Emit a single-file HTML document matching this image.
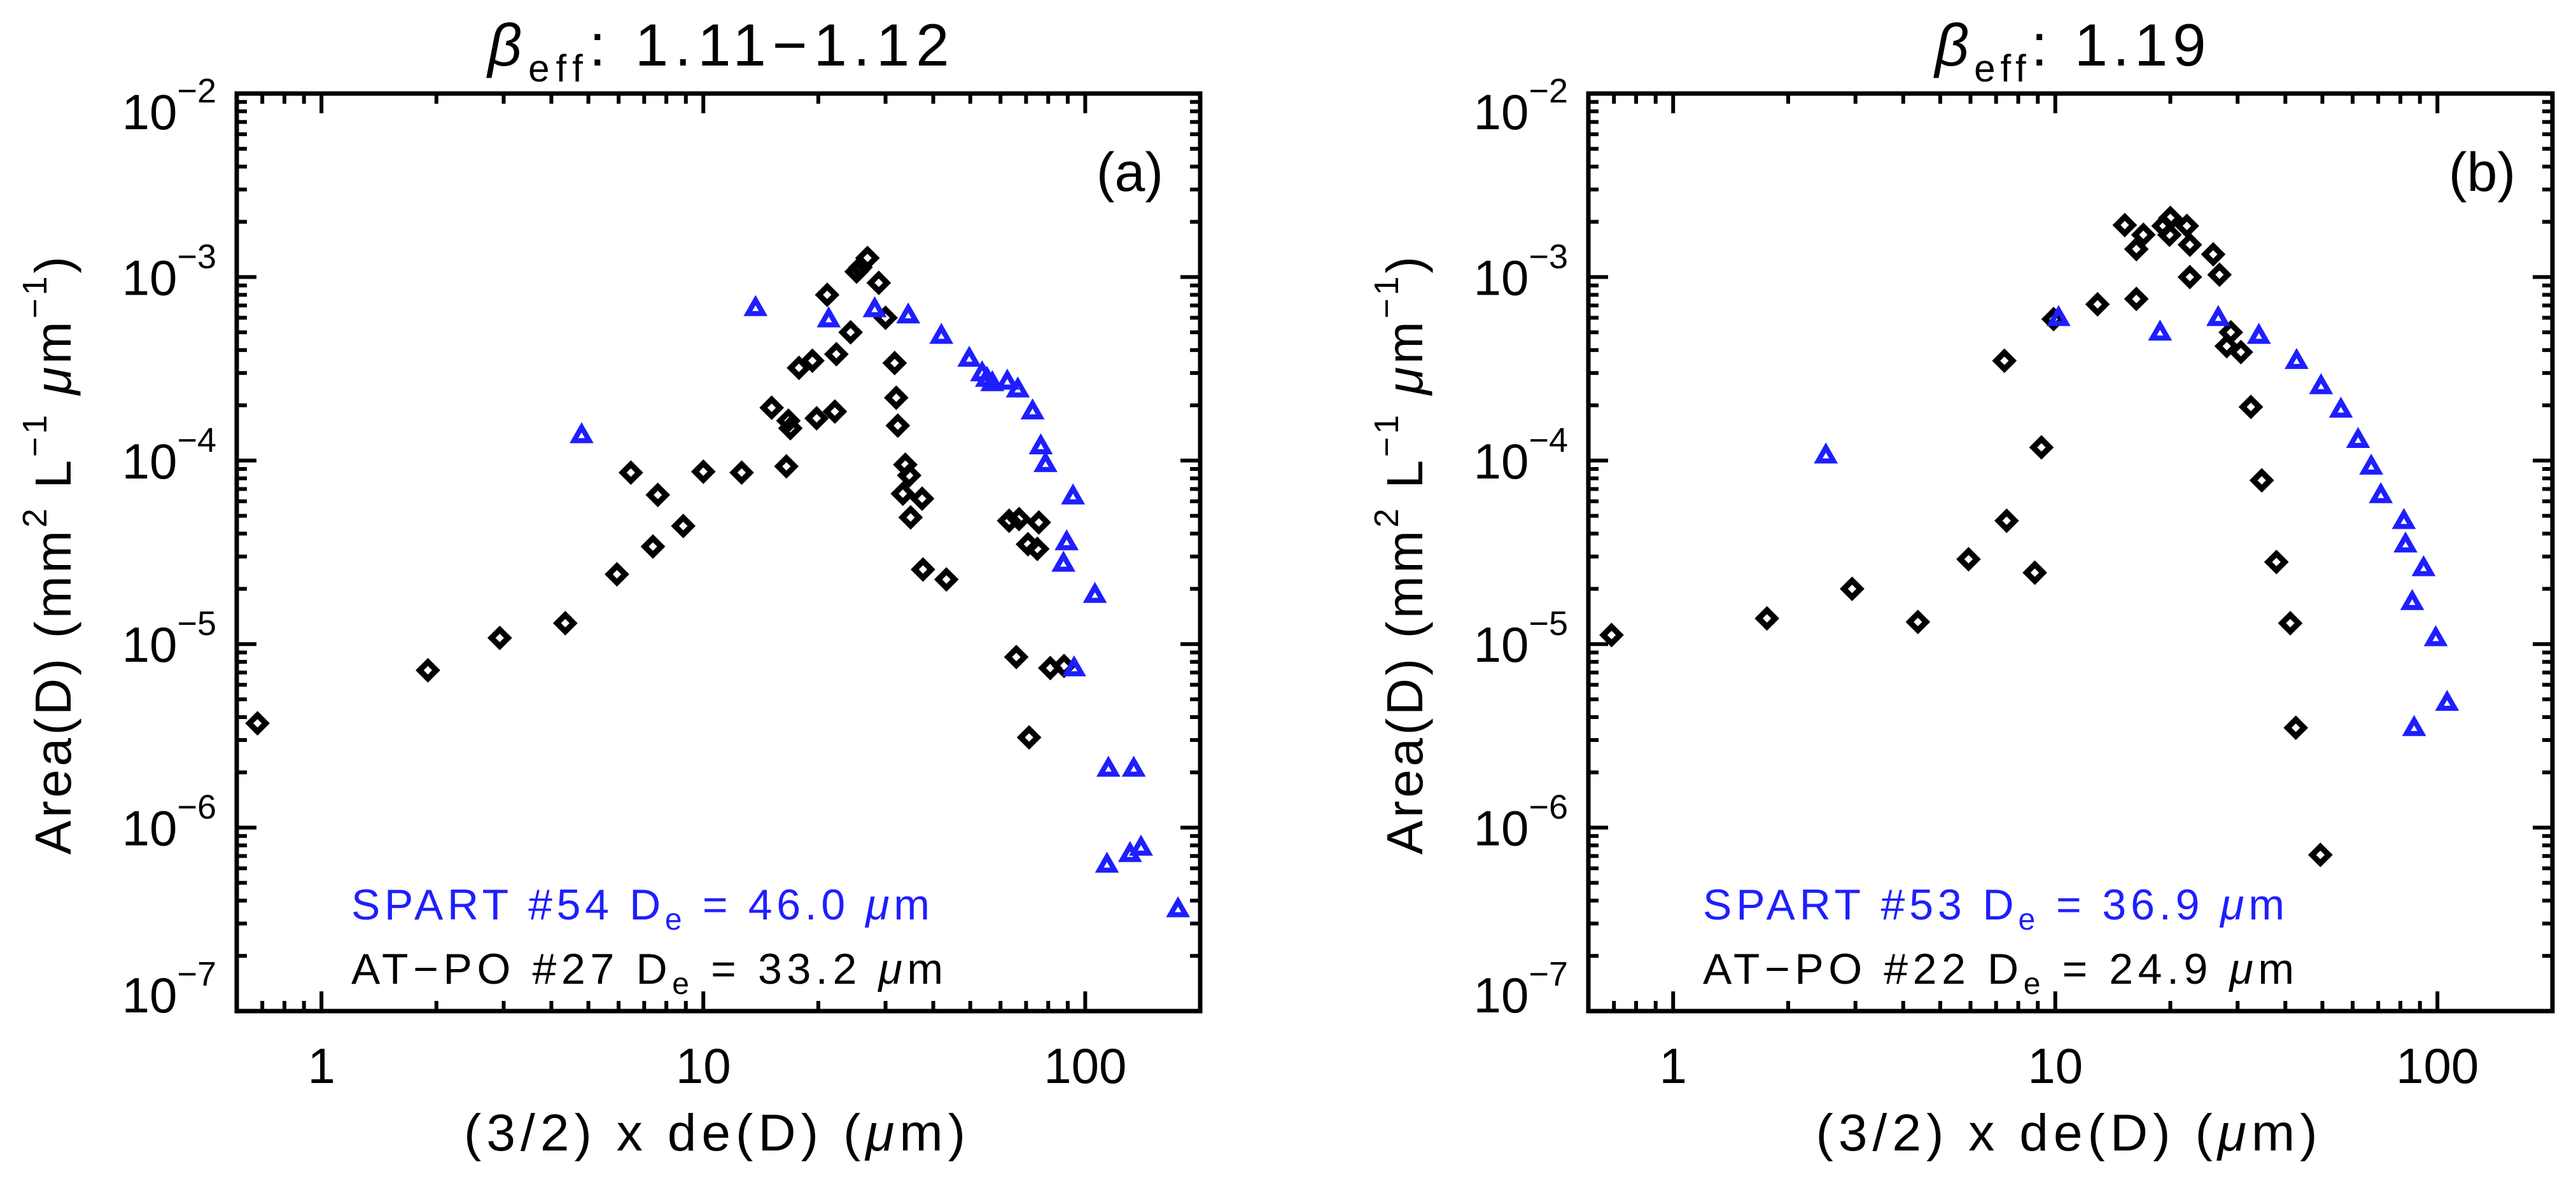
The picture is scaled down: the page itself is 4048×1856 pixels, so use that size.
<!DOCTYPE html>
<html><head><meta charset="utf-8"><style>
html,body{margin:0;padding:0;background:#fff}
svg{display:block}
text{font-family:"Liberation Sans",sans-serif}
</style></head><body>
<svg id="fig" width="4048" height="1856" viewBox="0 0 4048 1856" xmlns="http://www.w3.org/2000/svg">
<g id="panelA"></g>
<g id="panelB"></g>
</svg>
<script>
// Panel (a) data
const aSpartX = [4.8,13.7,21.3,28.1,34.4,42,49.7,53.7,55.3,57.1,62.5,66.6,72.8,76.5,78.7,92.9,89.4,87.7,93.5,106,115,134,114,131,140,175];
const aSpartY = [1.38e-4,6.8e-4,5.9e-4,6.7e-4,6.2e-4,4.8e-4,3.6e-4,3.0e-4,2.8e-4,2.65e-4,2.7e-4,2.45e-4,1.86e-4,1.2e-4,9.6e-5,6.4e-5,3.6e-5,2.75e-5,7.4e-6,1.86e-5,2.1e-6,2.1e-6,6.3e-7,7.2e-7,7.8e-7,3.6e-7];
const aAtpoX = [0.68,1.9,2.93,4.35,5.94,6.46,7.38,7.6,8.86,10,12.6,15.1,16.5,16.7,16.9,17.8,19.3,19.8,21.1,22.1,22.3,24.3,25.2,25.8,26.9,28.8,30.0,31.7,32.0,32.3,33.8,34.6,33.3,34.9,37.4,37.6,43.3,63.2,67.1,70.8,74.9,75.6,66,71.3,81,88];
const aAtpoY = [3.7e-6,7.2e-6,1.08e-5,1.3e-5,2.4e-5,8.6e-5,3.4e-5,6.5e-5,4.4e-5,8.7e-5,8.6e-5,1.94e-4,9.3e-5,1.65e-4,1.5e-4,3.2e-4,3.5e-4,1.7e-4,8.0e-4,1.85e-4,3.8e-4,5.0e-4,1.07e-3,1.13e-3,1.27e-3,9.3e-4,6.0e-4,3.4e-4,2.2e-4,1.55e-4,9.5e-5,8.3e-5,6.6e-5,4.9e-5,6.2e-5,2.55e-5,2.25e-5,4.7e-5,4.8e-5,3.5e-5,3.3e-5,4.6e-5,8.5e-6,3.1e-6,7.4e-6,7.6e-6];
// Panel (b) data
const bSpartX = [2.51,10.2,18.8,26.7,34.1,42.8,49.6,55.9,62,67.1,71.1,81.7,82.5,92,85.9,99,86.9,106];
const bSpartY = [1.07e-4,6.0e-4,5.0e-4,6.0e-4,4.8e-4,3.5e-4,2.55e-4,1.9e-4,1.3e-4,9.3e-5,6.5e-5,4.7e-5,3.5e-5,2.6e-5,1.7e-5,1.08e-5,3.5e-6,4.8e-6];
const bAtpoX = [0.69,1.76,2.94,4.37,5.93,7.36,7.46,8.84,9.2,9.9,12.9,15.2,16.3,16.3,17.0,19.2,20.0,19.9,22.1,22.5,22.5,25.9,26.9,28.8,28.1,30.6,32.5,34.7,37.9,41.2,42.6,49.4];
const bAtpoY = [1.12e-5,1.38e-5,2.0e-5,1.32e-5,2.9e-5,3.5e-4,4.7e-5,2.45e-5,1.18e-4,5.9e-4,7.1e-4,1.92e-3,1.42e-3,7.6e-4,1.7e-3,1.9e-3,2.1e-3,1.7e-3,1.9e-3,1.5e-3,1.0e-3,1.33e-3,1.03e-3,5.0e-4,4.2e-4,3.9e-4,1.96e-4,7.8e-5,2.8e-5,1.3e-5,3.5e-6,7.1e-7];
const xTickValues = [1,10,100];
const xTickLabels = ["1","10","100"];
const yTickExps = [-2,-3,-4,-5,-6,-7];
const titles = ["1.11\u22121.12","1.19"];
const panelLabels = ["(a)","(b)"];
const spartLegend = ["SPART #54 D","SPART #53 D"];
const spartDe = ["46.0","36.9"];
const atpoLegend = ["AT\u2212PO #27 D","AT\u2212PO #22 D"];
const atpoDe = ["33.2","24.9"];

const NS="http://www.w3.org/2000/svg";
const BLUE="#1e1eff";
const Y0=147, Y1=1589, XMIN=0.6, XMAX=200, YMIN=1e-7, YMAX=1e-2;
const TITLE_W=[725,426], BLUE_W=[909,914], BLACK_W=[930,929];
function mk(parent,tag,attrs){const e=document.createElementNS(NS,tag);for(const k in attrs)e.setAttribute(k,attrs[k]);parent.appendChild(e);return e;}
function tspan(parent,txt,attrs){const t=mk(parent,'tspan',attrs||{});t.textContent=txt;return t;}

function drawPanel(g,idx,x0,x1,sx,sy,ax,ay){
  const xs=v=>x0+(Math.log10(v)-Math.log10(XMIN))/(Math.log10(XMAX)-Math.log10(XMIN))*(x1-x0);
  const ys=v=>Y0+(Math.log10(YMAX)-Math.log10(v))/(Math.log10(YMAX)-Math.log10(YMIN))*(Y1-Y0);
  const tk=mk(g,'g',{stroke:'#000','stroke-width':6});
  
  
  for(let d=-1;d<=2;d++){for(let m=1;m<=9;m++){const v=m*Math.pow(10,d);if(v<XMIN-1e-9||v>XMAX+1e-9)continue;const x=xs(v);const L=(m===1)?31:16;
    mk(tk,'line',{x1:x,y1:Y1,x2:x,y2:Y1-L});mk(tk,'line',{x1:x,y1:Y0,x2:x,y2:Y0+L});}}
  for(let d=-7;d<=-2;d++){for(let m=1;m<=9;m++){const v=m*Math.pow(10,d);if(v>YMAX*1.0001)continue;const y=ys(v);const L=(m===1)?31:16;
    mk(tk,'line',{x1:x0,y1:y,x2:x0+L,y2:y});mk(tk,'line',{x1:x1,y1:y,x2:x1-L,y2:y});}}
  const fr=mk(g,'rect',{x:x0,y:Y0,width:x1-x0,height:Y1-Y0,fill:'none',stroke:'#000','stroke-width':7});
  
  
  xTickValues.forEach((v,i)=>{const t=mk(g,'text',{x:xs(v),y:1702,'font-size':78,'text-anchor':'middle'});t.textContent=xTickLabels[i];
    
    });
  yTickExps.forEach(e=>{let yc=ys(Math.pow(10,e));if(e===-2)yc=175;if(e===-7)yc=1563;
    const t=mk(g,'text',{x:x0-32,y:yc+28,'font-size':78,'text-anchor':'end'});
    
    
    tspan(t,'10');tspan(t,'\u2212'+(-e),{'font-size':54,dy:-42});});
  const cx=(x0+x1)/2;
  const ti=mk(g,'text',{x:cx,y:103,'font-size':94,'text-anchor':'middle',textLength:TITLE_W[idx],lengthAdjust:'spacing'});
  
  
  tspan(ti,'\u03b2',{'font-style':'italic'});tspan(ti,'eff',{'font-size':60,dy:25});tspan(ti,': '+titles[idx],{dy:-25});
  const pl=mk(g,'text',{x:x1-58,y:300,'font-size':86,'text-anchor':'end'});pl.textContent=panelLabels[idx];
  
  
  const xl=mk(g,'text',{x:cx-6,y:1808,'font-size':82,'text-anchor':'middle',textLength:788,lengthAdjust:'spacing'});
  
  
  tspan(xl,'(3/2) x de(D) (');tspan(xl,'\u03bc',{'font-style':'italic'});tspan(xl,'m)');
  const yx=x0-261, yc=873;
  const yl=mk(g,'text',{x:yx,y:yc,'font-size':80,'text-anchor':'middle',textLength:940,lengthAdjust:'spacing',transform:`rotate(-90 ${yx} ${yc})`});
  
  
  tspan(yl,'Area(D) (mm');tspan(yl,'2',{'font-size':54,dy:-38});tspan(yl,' L',{dy:38});tspan(yl,'\u22121',{'font-size':54,dy:-38});
  tspan(yl,' ',{dy:38});tspan(yl,'\u03bc',{'font-style':'italic'});tspan(yl,'m');tspan(yl,'\u22121',{'font-size':54,dy:-38});tspan(yl,')',{dy:38});
  const lx=x0+180;
  const l1=mk(g,'text',{x:lx,y:1445,'font-size':68,fill:BLUE,textLength:BLUE_W[idx],lengthAdjust:'spacing'});
  
  
  tspan(l1,spartLegend[idx]);tspan(l1,'e',{'font-size':48,dy:16});tspan(l1,' = '+spartDe[idx]+' ',{dy:-16});tspan(l1,'\u03bc',{'font-style':'italic'});tspan(l1,'m');
  const l2=mk(g,'text',{x:lx,y:1546,'font-size':68,fill:'#000',textLength:BLACK_W[idx],lengthAdjust:'spacing'});
  
  
  tspan(l2,atpoLegend[idx]);tspan(l2,'e',{'font-size':48,dy:16});tspan(l2,' = '+atpoDe[idx]+' ',{dy:-16});tspan(l2,'\u03bc',{'font-style':'italic'});tspan(l2,'m');
  const dg=mk(g,'g',{fill:'none',stroke:'#000','stroke-width':9});
  
  
  ax.forEach((v,i)=>{const x=xs(v),y=ys(ay[i]);const p=mk(dg,'path',{d:`M${x} ${y-13}L${x+13} ${y}L${x} ${y+13}L${x-13} ${y}Z`});
    
    });
  const bg=mk(g,'g',{fill:'none',stroke:BLUE,'stroke-width':8,'stroke-linejoin':'miter'});
  
  
  sx.forEach((v,i)=>{const x=xs(v),y=ys(sy[i]);const p=mk(bg,'path',{d:`M${x} ${y-12}L${x+12} ${y+9}L${x-12} ${y+9}Z`});
    
    });
}
drawPanel(document.getElementById('panelA'),0,372,1886,aSpartX,aSpartY,aAtpoX,aAtpoY);
drawPanel(document.getElementById('panelB'),1,2496,4011,bSpartX,bSpartY,bAtpoX,bAtpoY);
</script>
</body></html>
